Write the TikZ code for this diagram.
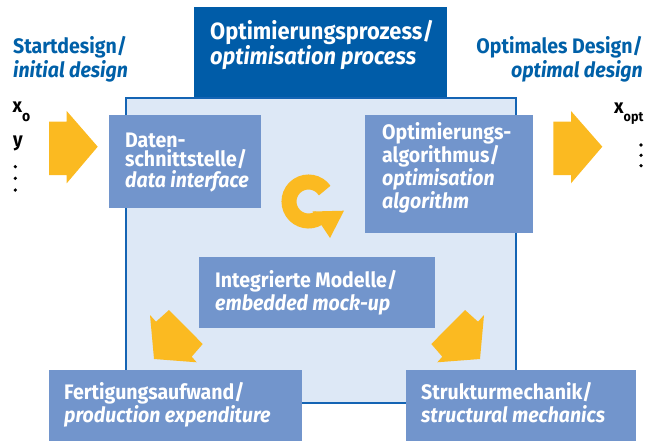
\documentclass[tikz,border=0pt]{standalone}
\usepackage{fontspec}
\setmainfont[FakeStretch=0.93]{Fira Sans}
\definecolor{darkblue}{RGB}{0,92,168}
\definecolor{borderblue}{RGB}{20,100,180}
\definecolor{lightfill}{RGB}{221,232,246}
\definecolor{midblue}{RGB}{114,149,204}
\definecolor{arrowyellow}{RGB}{251,186,33}
\definecolor{textblue}{RGB}{0,96,168}
\begin{document}
\begin{tikzpicture}[x=1pt,y=-1pt,
  midbox/.style={fill=midblue, draw=none, anchor=north west, inner sep=0pt},
  boxtext/.style={anchor=base west, align=left, inner sep=0pt, text=white,
    font=\fontsize{21}{#1}\selectfont\bfseries},
  sidetext/.style={inner sep=0pt, text=textblue,
    font=\fontsize{21}{23.7}\selectfont\bfseries},
  vartext/.style={anchor=base west, inner sep=0pt, text=black,
    font=\fontsize{20}{22}\selectfont\bfseries},
  yarrow/.style={fill=arrowyellow, draw=none}]
\useasboundingbox (0,0) rectangle (656,441);

% top dark box
\node[fill=darkblue, anchor=north west, inner sep=0pt, minimum width=253pt, minimum height=91pt] (procBox) at (194,7) {};
% light frame
\node[fill=lightfill, draw=borderblue, line width=2pt, anchor=north west, inner sep=0pt,
  minimum width=390pt, minimum height=304pt] (frame) at (124.5,97.5) {};

\node[anchor=base west, align=left, inner sep=0pt, text=white,
  font=\fontsize{23.5}{25}\selectfont\bfseries] (procText) at (210,65)
  {Optimierungsprozess/\\\textit{optimisation process}};

% side labels
\node[sidetext, anchor=base west, align=left] (startText) at (13,77.7)
  {Startdesign/\\\textit{initial design}};
\node[sidetext, anchor=base east, align=right] (optText) at (643,77.7)
  {Optimales Design/\\\textit{optimal design}};

% variables
\node[vartext] (x0) at (12.5,113) {x\raisebox{-8.7pt}{\fontsize{15}{15}\selectfont o}};
\node[vartext] (yv) at (13,146.7) {y};
\node[vartext] (xopt) at (614,113.3) {x\raisebox{-8.4pt}{\fontsize{13.5}{14}\selectfont opt}};
\foreach \yy in {166.7,178.3,190} \fill (15.3,\yy) circle (1.8);
\foreach \yy in {145,155.3,165.7} \fill (641,\yy) circle (1.8);

% big arrows
\fill[yarrow] (49,121.7) -- (66.7,121.7) -- (66.7,111) -- (97.7,146.7) -- (66.7,183.3) -- (66.7,175) -- (49,175) -- cycle;
\fill[yarrow] (553.3,121.7) -- (571,121.7) -- (571,111) -- (602.3,146.7) -- (571,183.3) -- (571,175) -- (553.3,175) -- cycle;

% inner boxes
\node[midbox, minimum width=152pt, minimum height=93pt] (dataBox) at (109,115) {};
\node[boxtext=20] (dataText) at (125,187) {Daten-\\schnittstelle/\\\textit{data interface}};

\node[midbox, minimum width=168pt, minimum height=118pt] (algoBox) at (365,115) {};
\node[boxtext=20.3] (algoText) at (382,208) {Optimierungs-\\algorithmus/\\\textit{optimisation}\\\textit{algorithm}};

\node[midbox, minimum width=236pt, minimum height=71pt] (modelBox) at (199,257) {};
\node[boxtext=23] (modelText) at (215,310) {Integrierte Modelle/\\\textit{embedded mock-up}};

\node[midbox, minimum width=253pt, minimum height=75pt] (fertBox) at (49,370) {};
\node[boxtext=23] (fertText) at (64,422) {Fertigungsaufwand/\\\textit{production expenditure}};

\node[midbox, minimum width=230pt, minimum height=75pt] (strukBox) at (406,370) {};
\node[boxtext=23] (strukText) at (421,422) {Strukturmechanik/\\\textit{structural mechanics}};

% circular arrow
\draw[arrowyellow, line width=15pt] (308.5,201.5) ++(-34:19.5) arc[start angle=-34, end angle=-302, radius=19.5];
\fill[yarrow] (312.5,211.5) -- (344,210.7) -- (330,238) -- cycle;

% diagonal arrows
\fill[yarrow] (150,315) -- (156,321.7) -- (169,310) -- (202.7,344) -- (191.7,356.7) -- (196.7,362.3) -- (154,359) -- cycle;
\fill[yarrow] (484,315) -- (478,321.7) -- (465,310) -- (431.3,344) -- (442.3,356.7) -- (437.3,362.3) -- (480,359) -- cycle;
\end{tikzpicture}
\end{document}
